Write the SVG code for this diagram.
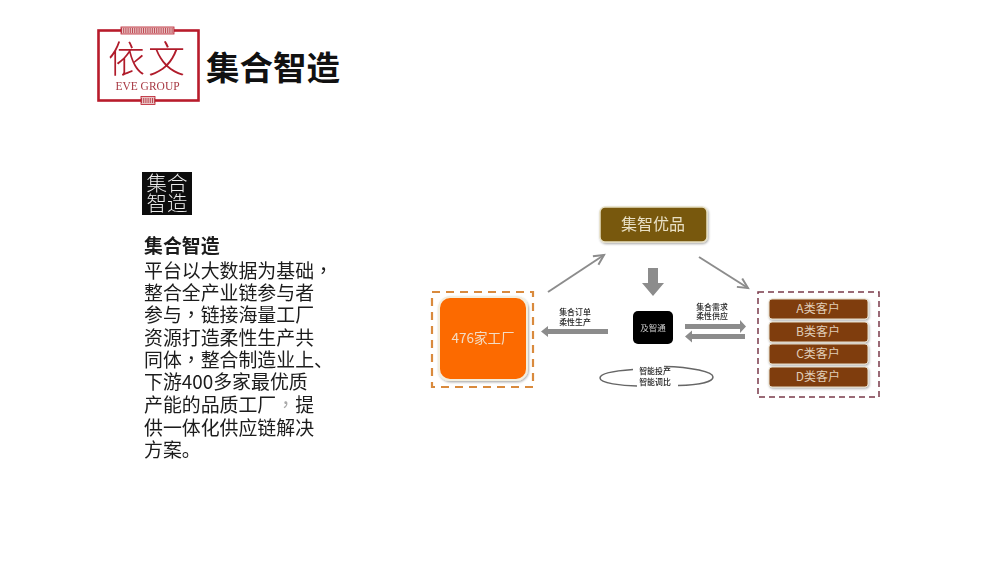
<svg xmlns="http://www.w3.org/2000/svg" width="1000" height="563" viewBox="0 0 1000 563">
<defs>
<style>
text{font-family:"Noto Sans CJK SC","Liberation Sans",sans-serif}
.body{font-size:18.9px;fill:#1a1a1a}
.tc{font-family:"Noto Sans CJK TC",sans-serif}
.m{text-anchor:middle}
.tiny{font-size:7.900px;fill:#222;text-anchor:middle;font-weight:500}
.cust{font-size:12px;fill:#e0cdb8;text-anchor:middle}
.conn{stroke:#8c8c8c;fill:none}
.bar{fill:#7f3d0c;stroke:#e6dcc8;stroke-width:1;filter:url(#sh)}
.latbase{fill:#e8c4c4;stroke:#b81c2c;stroke-width:.8}
.lat{fill:none;stroke:#b01f2e;stroke-width:5;stroke-dasharray:1 1.200;opacity:.75}
</style>
<filter id="softer" x="-5%" y="-5%" width="110%" height="110%"><feGaussianBlur stdDeviation="0.250"/></filter>
<filter id="sh" x="-10%" y="-20%" width="120%" height="150%"><feDropShadow dx="0.800" dy="1.200" stdDeviation="0.900" flood-color="#000" flood-opacity=".35"/></filter>
<marker id="open" markerUnits="userSpaceOnUse" markerWidth="14" markerHeight="14" refX="11" refY="6" orient="auto"><path d="M1 1L11 6L1 11" fill="none" stroke="#8c8c8c" stroke-width="2"/></marker>
</defs>
<rect width="1000" height="563" fill="#fff"/>
<g id="logo" filter="url(#softer)">
<rect x="98.500" y="30.500" width="100" height="70" fill="#fff" stroke="#b81c2c" stroke-width="2.600"/>
<rect class="latbase" x="121" y="27" width="53" height="7"/>
<line class="lat" x1="121" y1="30.500" x2="174" y2="30.500"/>
<rect class="latbase" x="141" y="96.500" width="14" height="8"/>
<line class="lat" x1="141" y1="100.500" x2="155" y2="100.500"/>
<text x="148" y="73" class="m" font-size="37" font-weight="300" fill="#b01a2a" letter-spacing="3">依文</text>
<text x="147.500" y="89.500" class="m" font-size="11.500" fill="#a83a44" style="font-family:'Liberation Serif',serif">EVE GROUP</text>
</g>
<text id="title" x="206" y="80" font-size="33.500" font-weight="700" fill="#111">集合智造</text>
<g id="badge" filter="url(#softer)">
<rect x="142" y="172" width="50" height="43" fill="#0a0a0a"/>
<text class="m" font-size="20.500" font-weight="300" fill="#eee"><tspan x="167" y="191">集合</tspan><tspan x="167" y="211">智造</tspan></text>
</g>
<g id="body-text" filter="url(#softer)">
<text class="body"><tspan x="144" y="253" font-weight="700">集合智造</tspan><tspan x="144" y="278">平台以大数据为基础<tspan class="tc">，</tspan></tspan><tspan x="144" y="300">整合全产业链参与者</tspan><tspan x="144" y="322">参与<tspan class="tc">，</tspan>链接海量工厂</tspan><tspan x="144" y="345">资源打造柔性生产共</tspan><tspan x="144" y="367">同体<tspan class="tc">，</tspan>整合制造业上、</tspan><tspan x="144" y="389">下游400多家最优质</tspan><tspan x="144" y="412">产能的品质工厂<tspan class="tc" fill="#aaa">，</tspan>提</tspan><tspan x="144" y="435">供一体化供应链解决</tspan><tspan x="144" y="457">方案。</tspan></text>
</g>
<g id="connectors" filter="url(#softer)">
<line class="conn" x1="548" y1="292" x2="604" y2="255" stroke-width="2" marker-end="url(#open)"/>
<line class="conn" x1="699" y1="257" x2="748" y2="288" stroke-width="2" marker-end="url(#open)"/>
<path d="M648 268H658V283H664L653 296L642 283H648Z" fill="#8c8c8c"/>
<path d="M608 329V334H548V337L541 331.500L548 326V329Z" fill="#8c8c8c"/>
<path d="M685 324V329H740V333L746 326.500L740 320V324Z" fill="#8c8c8c"/>
<path d="M745 334V339H692V342.500L685 336.500L692 330.500V334Z" fill="#8c8c8c"/>
<path d="M633 369.500C612 371 600 374 600 378C600 383 622 386 637 386M678 385.500C699 385 713 382 713 377C713 372 692 367 664 366.500" fill="none" stroke="#666" stroke-width="1.500"/>
</g>
<g id="n-jzyp">
<rect x="600" y="207" width="107" height="35" rx="5" fill="#78590b" stroke="#e6dfc4" stroke-width="1.500" filter="url(#sh)"/>
<text x="653" y="230" class="m" font-size="16" fill="#e8dfc4" filter="url(#softer)">集智优品</text>
</g>
<g id="n-factory">
<rect x="432" y="292" width="101" height="95" fill="none" stroke="#d98a3c" stroke-width="2.200" stroke-dasharray="8 6" filter="url(#softer)"/>
<rect x="439" y="297" width="88" height="83" rx="11" fill="#fc6a05" stroke="#f3eedd" stroke-width="2" filter="url(#sh)"/>
<text x="483" y="343" class="m" font-size="13.500" fill="#f3dcc4" filter="url(#softer)">476家工厂</text>
</g>
<g id="n-jizhitong" filter="url(#softer)">
<rect x="633" y="311" width="40" height="33" rx="5" fill="#040404"/>
<text x="653" y="331" class="m" font-size="8.500" fill="#ccc">及智通</text>
</g>
<g id="labels" filter="url(#softer)">
<text class="tiny"><tspan x="575" y="315">集合订单</tspan><tspan x="575" y="325">柔性生产</tspan></text>
<text class="tiny"><tspan x="712" y="310">集合需求</tspan><tspan x="712" y="319">柔性供应</tspan></text>
<text class="tiny"><tspan x="655" y="374">智能投产</tspan><tspan x="655" y="384.500">智能调比</tspan></text>
</g>
<g id="n-customers">
<rect x="758" y="292" width="121" height="105" fill="none" stroke="#7b3a4a" stroke-width="1.500" stroke-dasharray="6 4" filter="url(#softer)"/>
<g id="n-a"><rect class="bar" x="769" y="299" width="99" height="20" rx="3"/><text x="818" y="313" class="cust">A类客户</text></g>
<g id="n-b"><rect class="bar" x="769" y="322" width="99" height="20" rx="3"/><text x="818" y="336" class="cust">B类客户</text></g>
<g id="n-c"><rect class="bar" x="769" y="344" width="99" height="20" rx="3"/><text x="818" y="358" class="cust">C类客户</text></g>
<g id="n-d"><rect class="bar" x="769" y="367" width="99" height="20" rx="3"/><text x="818" y="381" class="cust">D类客户</text></g>
</g>
</svg>
